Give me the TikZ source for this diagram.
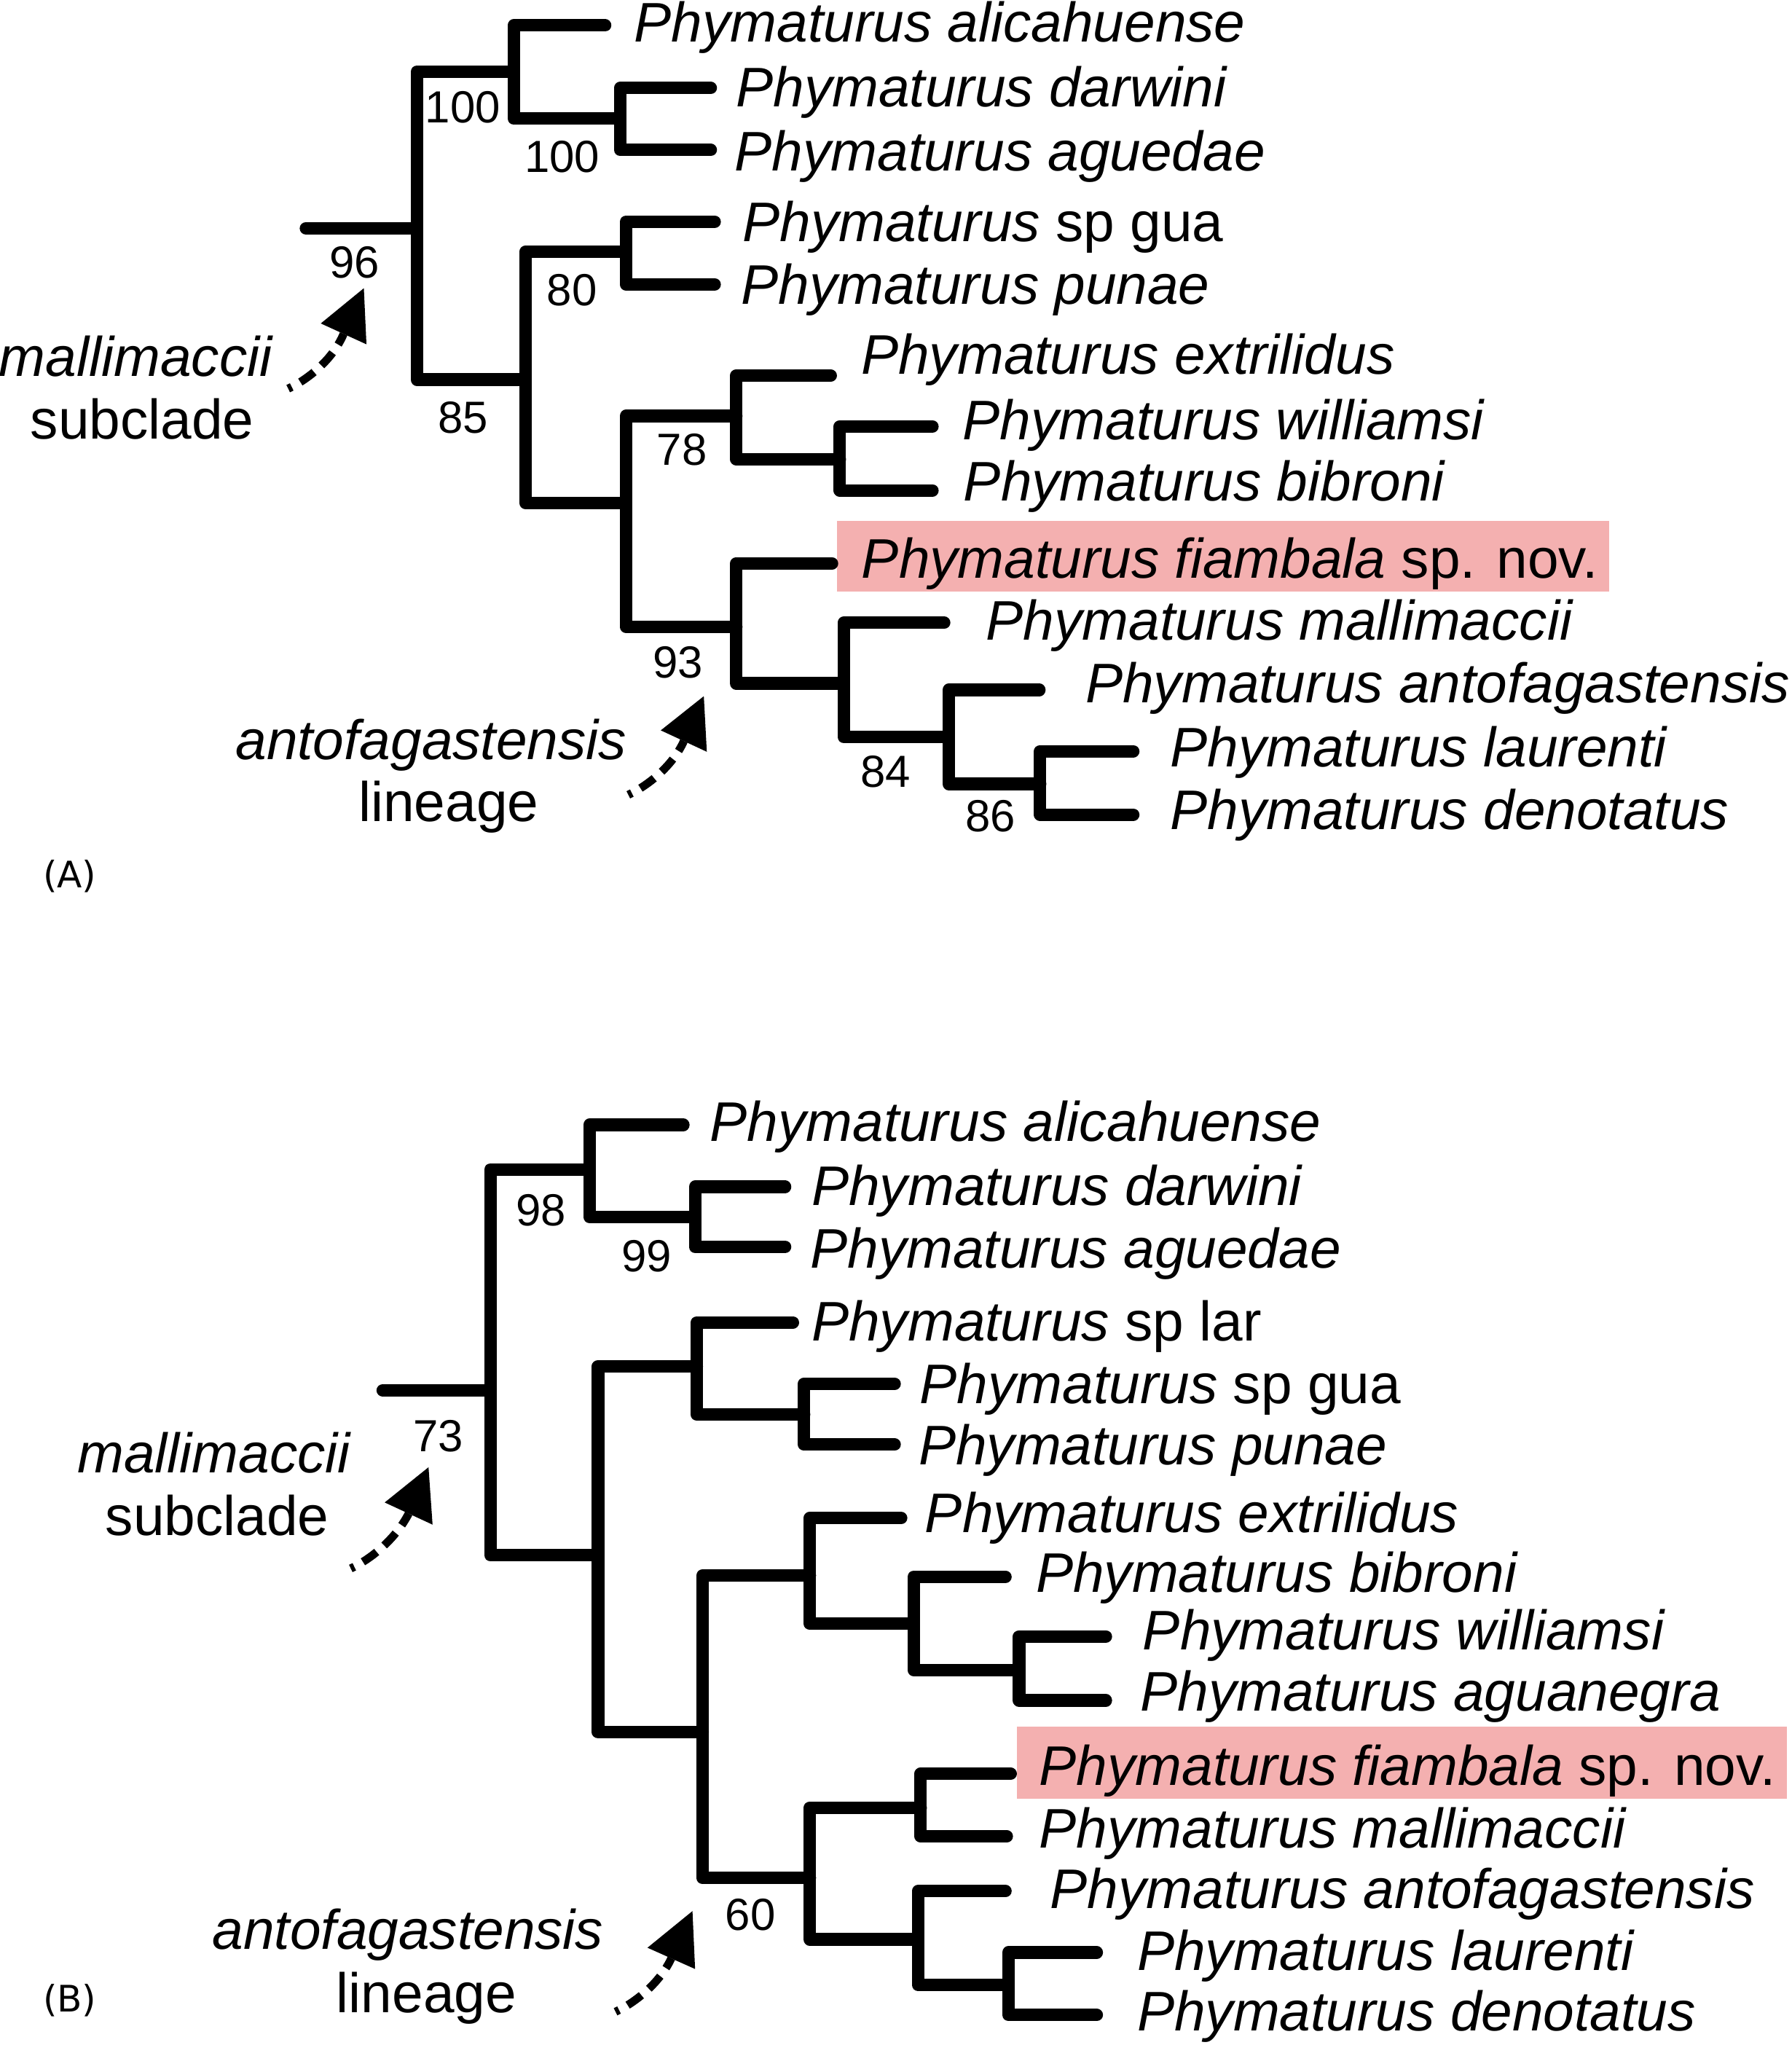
\documentclass[tikz,border=0pt]{standalone}
\usepackage{fontspec}
\setmainfont{Liberation Sans}
\newfontfamily\panelfont{DejaVu Sans}
\definecolor{hl}{RGB}{244,176,176}
\begin{document}
\begin{tikzpicture}[x=0.5pt,y=-0.5pt,
  br/.style={line width=4.8pt,line cap=round,line join=round},
  taxon/.style={anchor=base west,inner sep=0pt,font=\fontsize{21.4}{25}\selectfont},
  bs/.style={inner sep=0pt,font=\fontsize{17.25}{20}\selectfont},
  lab/.style={anchor=base,inner sep=0pt,font=\fontsize{21.4}{25}\selectfont},
  pnl/.style={inner sep=0pt,font=\panelfont\fontsize{14}{16}\selectfont},
  dsh/.style={line width=3.1pt,dash pattern=on 6.5pt off 3.8pt,dash phase=5pt},
  ahd/.style={fill=black}]
\fill[white] (0,0) rectangle (1374,1568);
\useasboundingbox (0,0) rectangle (1374,1568);

% ---------------- Panel A ----------------
\fill[hl] (642,399.5) rectangle (1234,453.5);
% tips
\coordinate (tA1) at (464,19.5);
\coordinate (tA2) at (545,67.5);
\coordinate (tA3) at (545,115);
\coordinate (tA4) at (548,170);
\coordinate (tA5) at (548,218);
\coordinate (tA6) at (637,288);
\coordinate (tA7) at (715,327);
\coordinate (tA8) at (715,376);
\coordinate (tA9) at (638,432);
\coordinate (tA10) at (724,477.5);
\coordinate (tA11) at (797,529);
\coordinate (tA12) at (869,576);
\coordinate (tA13) at (869,624.6);
% internal nodes
\coordinate (rootA) at (234.6,175);
\coordinate (N96) at (319.6,175);
\coordinate (N100a) at (394,55);
\coordinate (N100b) at (475.5,91);
\coordinate (N85) at (403,291);
\coordinate (N80) at (480,193);
\coordinate (NXY) at (480,385.6);
\coordinate (N78) at (564.6,319);
\coordinate (Nwb) at (644,352);
\coordinate (N93) at (564.6,480.5);
\coordinate (Nmal) at (647,524);
\coordinate (N84) at (727.5,565);
\coordinate (N86) at (797.6,601);
% branches
\draw[br] (rootA) -- (N96);
\draw[br] (N100a) -| (N96) |- (N85);
\draw[br] (tA1) -| (N100a) |- (N100b);
\draw[br] (tA2) -| (N100b) |- (tA3);
\draw[br] (N80) -| (N85) |- (NXY);
\draw[br] (tA4) -| (N80) |- (tA5);
\draw[br] (N78) -| (NXY) |- (N93);
\draw[br] (tA6) -| (N78) |- (Nwb);
\draw[br] (tA7) -| (Nwb) |- (tA8);
\draw[br] (tA9) -| (N93) |- (Nmal);
\draw[br] (tA10) -| (Nmal) |- (N84);
\draw[br] (tA11) -| (N84) |- (N86);
\draw[br] (tA12) -| (N86) |- (tA13);
% taxa
\node[taxon] (xA1) at (486,32) {\textit{Phymaturus alicahuense}};
\node[taxon] (xA2) at (564,82) {\textit{Phymaturus darwini}};
\node[taxon] (xA3) at (563,131) {\textit{Phymaturus aguedae}};
\node[taxon] (xA4) at (569,185) {\textit{Phymaturus} sp gua};
\node[taxon] (xA5) at (568,233) {\textit{Phymaturus punae}};
\node[taxon] (xA6) at (660,287) {\textit{Phymaturus extrilidus}};
\node[taxon] (xA7) at (738,337) {\textit{Phymaturus williamsi}};
\node[taxon] (xA8) at (738.6,384) {\textit{Phymaturus bibroni}};
\node[taxon] (xA9) at (660.4,443) {\textit{Phymaturus fiambala} sp. nov.};
\node[taxon] (xA10) at (755.7,490.5) {\textit{Phymaturus mallimaccii}};
\node[taxon] (xA11) at (832,539) {\textit{Phymaturus antofagastensis}};
\node[taxon] (xA12) at (897,588) {\textit{Phymaturus laurenti}};
\node[taxon] (xA13) at (897,636) {\textit{Phymaturus denotatus}};
% support values
\node[bs] (bA1) at (355,82) {100};
\node[bs] (bA2) at (431,120) {100};
\node[bs] (bA3) at (272,201) {96};
\node[bs] (bA4) at (438.6,222.6) {80};
\node[bs] (bA5) at (355,320) {85};
\node[bs] (bA6) at (523,345) {78};
\node[bs] (bA7) at (520,508) {93};
\node[bs] (bA8) at (679,591.5) {84};
\node[bs] (bA9) at (759.5,626) {86};
% annotations
\node[lab] (mA) at (104.5,288.7) {\textit{mallimaccii}};
\node[lab] (sA) at (109,336.6) {subclade};
\node[lab] (aA) at (330.6,582.4) {\textit{antofagastensis}};
\node[lab] (lA) at (344,630) {lineage};
\node[pnl] (pA) at (53.5,672) {(A)};
% arrows
\coordinate (a1s) at (221,298); \coordinate (a1c) at (236,291);
\coordinate (a1d) at (255,276); \coordinate (a1b) at (263.5,256);
\coordinate (a1t) at (279,221); \coordinate (a1l) at (246,248); \coordinate (a1r) at (281,264);
\draw[dsh] (a1s) .. controls (a1c) and (a1d) .. (a1b);
\fill[ahd] (a1t) -- (a1l) -- (a1r) -- cycle;
\coordinate (a2s) at (481.8,609.4); \coordinate (a2c) at (496.8,602.4);
\coordinate (a2d) at (515.8,587.4); \coordinate (a2b) at (524.4,568.2);
\coordinate (a2t) at (539.7,533.8); \coordinate (a2l) at (506.7,560); \coordinate (a2r) at (542,576.4);
\draw[dsh] (a2s) .. controls (a2c) and (a2d) .. (a2b);
\fill[ahd] (a2t) -- (a2l) -- (a2r) -- cycle;

% ---------------- Panel B ----------------
\fill[hl] (780,1324) rectangle (1370,1379);
\coordinate (tB1) at (524,862.5);
\coordinate (tB2) at (602,910);
\coordinate (tB3) at (602,956);
\coordinate (tB4) at (608,1014);
\coordinate (tB5) at (686,1061);
\coordinate (tB6) at (686,1107.6);
\coordinate (tB7) at (691,1164);
\coordinate (tB8) at (771,1209);
\coordinate (tB9) at (848,1254.7);
\coordinate (tB10) at (848,1303.8);
\coordinate (tB11) at (775,1360);
\coordinate (tB12) at (772,1408);
\coordinate (tB13) at (771,1450);
\coordinate (tB14) at (841,1497);
\coordinate (tB15) at (841,1545);
\coordinate (rootB) at (293.5,1066);
\coordinate (N73) at (376,1066);
\coordinate (N98) at (452,896.6);
\coordinate (N99) at (533,933);
\coordinate (Nrest) at (458.6,1192.5);
\coordinate (Nsplar) at (534.3,1047.6);
\coordinate (Ngua) at (616.6,1084.5);
\coordinate (Nbig) at (538.8,1328);
\coordinate (Nextr) at (621,1208);
\coordinate (Nbib) at (700.6,1245);
\coordinate (Nwa) at (781.5,1280.4);
\coordinate (Nfam) at (621,1440);
\coordinate (Nfm) at (706,1386);
\coordinate (Nant) at (704,1487);
\coordinate (Nld) at (773.3,1522);
\draw[br] (rootB) -- (N73);
\draw[br] (N98) -| (N73) |- (Nrest);
\draw[br] (tB1) -| (N98) |- (N99);
\draw[br] (tB2) -| (N99) |- (tB3);
\draw[br] (Nsplar) -| (Nrest) |- (Nbig);
\draw[br] (tB4) -| (Nsplar) |- (Ngua);
\draw[br] (tB5) -| (Ngua) |- (tB6);
\draw[br] (Nextr) -| (Nbig) |- (Nfam);
\draw[br] (tB7) -| (Nextr) |- (Nbib);
\draw[br] (tB8) -| (Nbib) |- (Nwa);
\draw[br] (tB9) -| (Nwa) |- (tB10);
\draw[br] (Nfm) -| (Nfam) |- (Nant);
\draw[br] (tB11) -| (Nfm) |- (tB12);
\draw[br] (tB13) -| (Nant) |- (Nld);
\draw[br] (tB14) -| (Nld) |- (tB15);
\node[taxon] (xB1) at (544,875) {\textit{Phymaturus alicahuense}};
\node[taxon] (xB2) at (622,924) {\textit{Phymaturus darwini}};
\node[taxon] (xB3) at (621,972) {\textit{Phymaturus aguedae}};
\node[taxon] (xB4) at (622,1028) {\textit{Phymaturus} sp lar};
\node[taxon] (xB5) at (705,1076) {\textit{Phymaturus} sp gua};
\node[taxon] (xB6) at (704,1123) {\textit{Phymaturus punae}};
\node[taxon] (xB7) at (709,1175) {\textit{Phymaturus extrilidus}};
\node[taxon] (xB8) at (794,1221) {\textit{Phymaturus bibroni}};
\node[taxon] (xB9) at (876,1265) {\textit{Phymaturus williamsi}};
\node[taxon] (xB10) at (874,1312) {\textit{Phymaturus aguanegra}};
\node[taxon] (xB11) at (796.5,1369) {\textit{Phymaturus fiambala} sp. nov.};
\node[taxon] (xB12) at (796.5,1417) {\textit{Phymaturus mallimaccii}};
\node[taxon] (xB13) at (805,1463) {\textit{Phymaturus antofagastensis}};
\node[taxon] (xB14) at (871.6,1511) {\textit{Phymaturus laurenti}};
\node[taxon] (xB15) at (871.6,1557) {\textit{Phymaturus denotatus}};
\node[bs] (bB1) at (415,928) {98};
\node[bs] (bB2) at (496,963) {99};
\node[bs] (bB3) at (336,1101) {73};
\node[bs] (bB4) at (575.5,1468) {60};
\node[lab] (mB) at (164.5,1129) {\textit{mallimaccii}};
\node[lab] (sB) at (166.5,1177) {subclade};
\node[lab] (aB) at (312.8,1494.5) {\textit{antofagastensis}};
\node[lab] (lB) at (327,1543) {lineage};
\node[pnl] (pB) at (53.5,1534) {(B)};
\coordinate (b1s) at (269,1202.6); \coordinate (b1c) at (284,1195.6);
\coordinate (b1d) at (303,1180.6); \coordinate (b1b) at (313.4,1160.5);
\coordinate (b1t) at (328.6,1125); \coordinate (b1l) at (295,1152); \coordinate (b1r) at (331.7,1169);
\draw[dsh] (b1s) .. controls (b1c) and (b1d) .. (b1b);
\fill[ahd] (b1t) -- (b1l) -- (b1r) -- cycle;
\coordinate (b2s) at (472,1542.5); \coordinate (b2c) at (487,1535.5);
\coordinate (b2d) at (506,1520.5); \coordinate (b2b) at (514.8,1501.5);
\coordinate (b2t) at (531,1465.3); \coordinate (b2l) at (496.5,1493.4); \coordinate (b2r) at (533,1509.7);
\draw[dsh] (b2s) .. controls (b2c) and (b2d) .. (b2b);
\fill[ahd] (b2t) -- (b2l) -- (b2r) -- cycle;
\end{tikzpicture}
\end{document}
